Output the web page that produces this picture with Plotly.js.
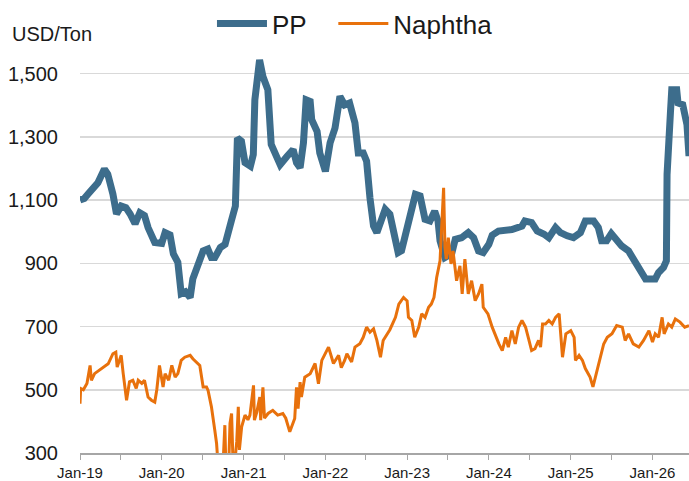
<!DOCTYPE html>
<html>
<head>
<meta charset="utf-8">
<script src="https://cdn.plot.ly/plotly-3.0.1.min.js"></script>
<style>html,body{margin:0;padding:0;background:#fff;}#chart{width:689px;height:481px;}</style>
</head>
<body>
<div id="chart"></div>
<script>
var ppDates = ["2019-01-01","2019-01-20","2019-02-07","2019-03-07","2019-03-22","2019-04-20","2019-05-05","2019-05-28","2019-06-13","2019-07-04","2019-07-25","2019-08-13","2019-09-04","2019-09-25","2019-10-16","2019-11-01","2019-12-01","2020-01-01","2020-01-16","2020-02-07","2020-02-22","2020-03-13","2020-03-28","2020-04-16","2020-05-07","2020-05-19","2020-06-13","2020-07-04","2020-07-25","2020-08-10","2020-08-25","2020-09-19","2020-10-10","2020-10-25","2020-11-07","2020-11-25","2020-12-04","2020-12-22","2021-01-07","2021-01-31","2021-02-13","2021-02-20","2021-03-13","2021-03-28","2021-04-19","2021-05-04","2021-05-28","2021-06-13","2021-07-13","2021-08-10","2021-08-25","2021-09-10","2021-09-25","2021-10-07","2021-10-25","2021-11-01","2021-11-25","2021-12-07","2022-01-01","2022-01-22","2022-02-13","2022-03-07","2022-03-28","2022-04-19","2022-05-13","2022-05-28","2022-06-19","2022-07-04","2022-07-19","2022-08-04","2022-08-19","2022-09-16","2022-09-25","2022-10-16","2022-11-01","2022-11-22","2022-12-07","2023-01-01","2023-01-22","2023-02-07","2023-02-28","2023-03-22","2023-04-13","2023-05-04","2023-05-19","2023-05-28","2023-06-19","2023-07-19","2023-08-04","2023-09-01","2023-10-01","2023-10-25","2023-11-16","2023-12-07","2024-01-01","2024-01-16","2024-02-13","2024-03-13","2024-04-13","2024-05-28","2024-06-10","2024-07-10","2024-08-04","2024-09-04","2024-09-25","2024-10-25","2024-11-16","2024-12-16","2025-01-13","2025-02-13","2025-03-07","2025-04-13","2025-05-04","2025-05-19","2025-06-10","2025-07-01","2025-07-25","2025-08-16","2025-09-16","2025-10-10","2025-11-10","2025-12-01","2026-01-13","2026-01-28","2026-02-19","2026-03-04","2026-03-07","2026-03-16","2026-03-22","2026-03-28","2026-04-19","2026-04-25","2026-05-16","2026-06-04","2026-06-13"];
var ppValues = [1100,1105,1120,1144,1155,1198,1182,1119,1056,1081,1076,1056,1025,1060,1051,1013,966,963,997,990,930,903,804,810,792,851,903,939,945,918,918,950,960,1013,1034,1081,1296,1286,1218,1207,1244,1417,1543,1491,1449,1276,1233,1212,1238,1260,1218,1202,1281,1417,1412,1354,1317,1249,1191,1281,1328,1428,1401,1407,1344,1249,1249,1223,1107,1018,997,1065,1071,1055,992,934,940,1013,1055,1118,1113,1039,1034,1065,1034,971,918,930,976,981,997,981,939,934,960,989,1002,1002,1007,1018,1034,1029,1002,992,981,1013,997,987,981,997,1034,1034,1013,971,971,994,971,955,939,908,876,850,850,871,887,908,1181,1370,1376,1449,1449,1407,1402,1338,1239];

var naDates = ["2019-01-01","2019-01-04","2019-01-16","2019-02-01","2019-02-15","2019-02-21","2019-03-07","2019-03-28","2019-04-22","2019-05-07","2019-05-28","2019-06-10","2019-06-16","2019-07-04","2019-07-13","2019-07-28","2019-08-10","2019-08-25","2019-09-09","2019-09-18","2019-10-04","2019-10-16","2019-11-01","2019-11-16","2019-12-01","2019-12-10","2019-12-22","2020-01-07","2020-01-16","2020-02-01","2020-02-15","2020-03-01","2020-03-13","2020-03-28","2020-04-13","2020-05-07","2020-05-19","2020-06-04","2020-06-19","2020-07-04","2020-07-19","2020-07-26","2020-08-10","2020-08-25","2020-09-02","2020-09-08","2020-10-01","2020-10-09","2020-10-13","2020-10-27","2020-11-01","2020-11-08","2020-11-14","2020-11-25","2020-12-01","2020-12-08","2020-12-13","2020-12-23","2021-01-07","2021-01-20","2021-01-29","2021-02-14","2021-02-18","2021-03-01","2021-03-14","2021-03-18","2021-03-28","2021-04-04","2021-04-20","2021-05-11","2021-06-02","2021-06-25","2021-07-08","2021-07-26","2021-08-17","2021-08-25","2021-09-01","2021-09-10","2021-09-16","2021-10-01","2021-10-25","2021-11-16","2021-12-01","2021-12-16","2022-01-15","2022-02-06","2022-03-01","2022-03-13","2022-03-28","2022-04-07","2022-04-28","2022-05-13","2022-06-04","2022-06-19","2022-07-04","2022-07-19","2022-08-04","2022-08-19","2022-09-04","2022-09-16","2022-10-01","2022-10-16","2022-11-10","2022-11-25","2022-12-16","2023-01-01","2023-01-07","2023-01-22","2023-02-04","2023-02-22","2023-03-07","2023-03-22","2023-04-07","2023-04-19","2023-05-01","2023-05-13","2023-05-28","2023-06-04","2023-06-13","2023-06-19","2023-06-25","2023-07-04","2023-07-16","2023-07-25","2023-08-10","2023-08-25","2023-09-04","2023-09-16","2023-10-01","2023-10-16","2023-11-01","2023-11-16","2023-12-01","2023-12-07","2023-12-28","2024-01-16","2024-02-01","2024-02-15","2024-03-01","2024-03-16","2024-03-28","2024-04-13","2024-04-28","2024-05-13","2024-05-28","2024-06-13","2024-06-25","2024-07-10","2024-07-25","2024-08-10","2024-08-19","2024-08-28","2024-09-10","2024-09-25","2024-10-10","2024-10-25","2024-11-10","2024-11-25","2024-12-10","2025-01-01","2025-01-16","2025-01-22","2025-02-07","2025-02-22","2025-03-07","2025-03-28","2025-04-10","2025-04-28","2025-05-13","2025-05-28","2025-06-13","2025-07-04","2025-07-25","2025-08-19","2025-09-01","2025-09-16","2025-10-07","2025-11-01","2025-11-22","2025-12-16","2026-01-01","2026-01-13","2026-01-28","2026-02-13","2026-02-22","2026-03-13","2026-03-28","2026-04-13","2026-05-04","2026-05-25","2026-06-13"];
var naValues = [456,504,500,520,577,530,551,562,577,582,614,619,572,609,551,467,525,530,504,530,520,530,477,467,461,500,577,509,551,530,577,540,551,593,603,609,598,588,577,509,509,498,446,372,330,270,265,388,270,280,394,425,280,290,335,446,310,383,420,405,420,514,404,430,477,404,508,410,425,435,420,425,410,367,409,508,440,524,477,540,551,583,519,593,635,583,609,570,593,614,588,635,646,666,698,682,693,656,603,656,672,690,729,771,792,781,729,719,666,698,740,729,761,771,792,855,908,1013,1139,950,913,981,898,939,845,892,803,913,803,845,782,803,834,761,740,698,666,645,624,666,635,687,645,698,719,698,666,624,630,656,635,708,708,719,708,729,740,603,677,687,666,593,609,593,567,540,509,562,603,645,666,677,703,698,656,677,645,635,656,687,651,677,666,729,677,708,698,724,714,698,703];

var fontFam = "Liberation Sans, Arial, sans-serif";

var traces = [
  {x: ppDates, y: ppValues, name: "PP\u00a0\u00a0\u00a0", type: "scatter", mode: "lines",
   line: {color: "#3d6d8c", width: 7}},
  {x: naDates, y: naValues, name: "Naphtha", type: "scatter", mode: "lines",
   line: {color: "#e8710c", width: 3}}
];

var layout = {
  width: 689, height: 481,
  margin: {l: 80, r: 0, t: 40, b: 28},
  paper_bgcolor: "#ffffff", plot_bgcolor: "#ffffff",
  font: {family: fontFam, color: "#1a1a1a"},
  showlegend: true,
  legend: {orientation: "h", x: 0.2167, xanchor: "left", y: 1.045, yanchor: "middle",
           font: {family: fontFam, size: 26, color: "#1a1a1a"}, bgcolor: "rgba(0,0,0,0)",
           itemwidth: 50},
  xaxis: {type: "date", range: ["2019-01-01", "2026-06-13"],
          tick0: "2019-01-01", dtick: "M12", tickformat: "%b-%y",
          ticks: "outside", ticklen: 5, tickcolor: "#a6a6a6", tickwidth: 1,
          minor: {dtick: "M6", ticks: "outside", ticklen: 5, tickcolor: "#a6a6a6", showgrid: false},
          showline: true, linecolor: "#a6a6a6", linewidth: 1.5,
          showgrid: false, zeroline: false,
          tickfont: {family: fontFam, size: 15, color: "#1a1a1a"}},
  yaxis: {range: [300, 1600], tick0: 300, dtick: 200, tickformat: ",",
          showgrid: true, gridcolor: "#d9d9d9", gridwidth: 1.5,
          zeroline: false, showline: false, ticks: "",
          ticklabelstandoff: 21, tickfont: {family: fontFam, size: 20, color: "#1a1a1a"}},
  annotations: [
    {text: "USD/Ton", xref: "paper", yref: "paper", x: -0.115, y: 1.02,
     xanchor: "left", yanchor: "middle", showarrow: false,
     font: {family: fontFam, size: 20, color: "#1a1a1a"}}
  ]
};

Plotly.newPlot("chart", traces, layout, {displayModeBar: false, staticPlot: true});
</script>
</body>
</html>
